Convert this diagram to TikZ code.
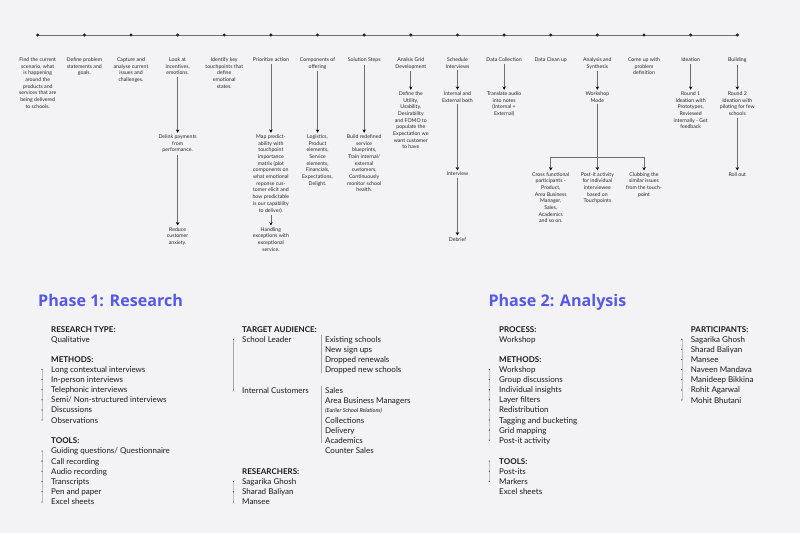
\documentclass[tikz,border=0pt]{standalone}
\usepackage{fontspec}
\setmainfont{Lato}
\newfontfamily\titlefont{Open Sans}
\usetikzlibrary{positioning,arrows.meta,calc}
\definecolor{paper}{RGB}{243,243,245}
\definecolor{phaseblue}{RGB}{86,88,232}
\definecolor{wire}{RGB}{110,110,110}
\tikzset{
    stepdot/.style={
        circle,fill=black!85,inner sep=0pt,minimum size=3.4pt
    },
    steptext/.style={
        font=\fontsize{5.2}{6.7}\selectfont,align=center,anchor=north,inner sep=0pt,text=black!85
    },
    flow/.style={
        draw=wire,line width=.7pt,-{Stealth[length=3.4pt,width=3.4pt,black]},shorten <=2pt,shorten >=1.5pt
    },
    phase/.style={
        font=\titlefont\bfseries\fontsize{16.1}{19}\selectfont,text=phaseblue,anchor=base west,inner sep=0pt
    },
    item/.style={
        font=\fontsize{8}{10}\selectfont,anchor=base west,inner sep=0pt,text=black!90
    },
    head/.style={item,font=\fontsize{8}{10}\selectfont\bfseries},
    bul/.style={black!75},
    bline/.style={draw=black!25,line width=.3pt},
    sep/.style={draw=black!35,line width=.5pt}
}

\begin{document}
\begin{tikzpicture}[x=1pt,y=-1pt]
\fill[paper] (0,0) rectangle (800,533);
\useasboundingbox (0,0) rectangle (800,533);

% timeline
\foreach \i in {1,...,16}
    \coordinate (t\i) at ({37.7+46.64*(\i-1)},35);
\draw[wire,line width=.8pt] (t1) -- (t16);
\foreach \i in {1,...,16}
    \node[stepdot] (d\i) at (t\i) {};

\node[steptext,below=20.5pt of d1] (s1) {Find the current\\scenario, what\\is happening\\around the\\products and\\services that are\\being delivered\\to schools.};
\node[steptext,below=20.5pt of d2] (s2) {Define problem\\statements and\\goals.};
\node[steptext,below=20.5pt of d3] (s3) {Capture and\\analyse current\\issues and\\challenges.};
\node[steptext,below=20.5pt of d4] (s4) {Look at\\incentives,\\emotions.};
\node[steptext,below=20.5pt of d5] (s5) {Identify key\\touchpoints that\\define\\emotional\\states.};
\node[steptext,below=20.5pt of d6] (s6) {Prioritize action};
\node[steptext,below=20.5pt of d7] (s7) {Components of\\offering};
\node[steptext,below=20.5pt of d8] (s8) {Solution Steps};
\node[steptext,below=20.5pt of d9] (s9) {Analsis Grid\\Development};
\node[steptext,below=20.5pt of d10] (s10) {Schedule\\Interviews};
\node[steptext,below=20.5pt of d11] (s11) {Data Collection};
\node[steptext,below=20.5pt of d12] (s12) {Data Clean up};
\node[steptext,below=20.5pt of d13] (s13) {Analysis and\\Synthesis};
\node[steptext,below=20.5pt of d14] (s14) {Come up with\\problem\\definition};
\node[steptext,below=20.5pt of d15] (s15) {Ideation};
\node[steptext,below=20.5pt of d16] (s16) {Building};

\node[steptext] (c4a) at (d4 |- 0,134.3) {Delink payments\\from\\performance.};
\node[steptext] (c4b) at (d4 |- 0,227) {Reduce\\customer\\anxiety.};
\node[steptext] (c6a) at (d6 |- 0,134.3) {Map predict-\\ability with\\touchpoint\\importance\\matrix (plot\\components on\\what emotional\\reponse cus-\\tomer elicit and\\how predictable\\is our capability\\to deliver).};
\node[steptext] (c6b) at (d6 |- 0,227) {Handling\\exceptions with\\exceptional\\service.};
\node[steptext] (c7) at (d7 |- 0,134.3) {Logistics,\\Product\\elements,\\Service\\elements,\\Financials,\\Expectations,\\Delight.};
\node[steptext] (c8) at (d8 |- 0,134.3) {Build redefined\\service\\blueprints,\\Train internal/\\external\\customers,\\Continuously\\monitor school\\health.};
\node[steptext] (c9) at (d9 |- 0,91.3) {Define the\\Utility,\\Usability,\\Desirability\\and FOMO to\\populate the\\Expectation we\\want customer\\to have};
\node[steptext] (c10a) at (d10 |- 0,91.3) {Internal and\\External both};
\node[steptext] (c10b) at (d10 |- 0,172) {Interview};
\node[steptext] (c10c) at (d10 |- 0,237) {Debrief};
\node[steptext] (c11) at (d11 |- 0,91.3) {Translate audio\\into notes\\(Internal +\\External)};
\node[steptext] (c13) at (d13 |- 0,91.3) {Workshop\\Mode};
\node[steptext] (c13a) at (d12 |- 0,172) {Cross functional\\participants -\\Product,\\Area Business\\Manager,\\Sales,\\Academics\\and so on.};
\node[steptext] (c13b) at (d13 |- 0,172) {Post-it activity\\for individual\\interviewee\\based on\\Touchpoints};
\node[steptext] (c13c) at (d14 |- 0,172) {Clubbing the\\similar issues\\from the touch-\\point};
\node[steptext] (c15) at (d15 |- 0,91.3) {Round 1\\Ideation with\\Prototypes,\\Reviewed\\internally - Get\\feedback};
\node[steptext] (c16a) at (d16 |- 0,91.3) {Round 2\\Ideation with\\piloting for few\\schools};
\node[steptext] (c16b) at (d16 |- 0,172) {Roll out};

\draw[flow] (s4) -- (c4a);
\draw[flow] (c4a) -- (c4b);
\draw[flow] (s6) -- (c6a);
\draw[flow] (c6a) -- (c6b);
\draw[flow] (s7) -- (c7);
\draw[flow] (s8) -- (c8);
\draw[flow] (s9) -- (c9);
\draw[flow] (s10) -- (c10a);
\draw[flow] (c10a) -- (c10b);
\draw[flow] (c10b) -- (c10c);
\draw[flow] (s11) -- (c11);
\draw[flow] (s13) -- (c13);
\draw[flow] (c13) -- (c13b);
\coordinate (fork) at (c13 |- 0,157);
\draw[flow,shorten <=0pt] (fork) -| (c13a.north);
\draw[flow,shorten <=0pt] (fork) -| (c13c.north);
\draw[flow] (s15) -- (c15);
\draw[flow] (s16) -- (c16a);
\draw[flow] (c16a) -- (c16b);

% phase 1
\node[phase] (p1) at (38,306) {Phase 1: Research};

\node[head] (rt) at (51,332) {RESEARCH TYPE:};
\node[item] (rt1) at (51,342.2) {Qualitative};
\node[head] (me) at (51,362.3) {METHODS:};
\foreach \t [count=\i] in {Long contextual interviews,In-person interviews,Telephonic interviews,Semi/ Non-structured interviews,Discussions,Observations}{
    \node[item] (me\i) at (51,{362.3+10.12*\i}) {\t};
    \coordinate (mb\i) at ($(me\i.base west)+(-9,-3)$);
}
\draw[bline] (mb1) -- (mb6);
\foreach \i in {1,...,6} \fill[bul] (mb\i) circle (.65);
\node[head] (to) at (51,443.7) {TOOLS:};
\foreach \t [count=\i] in {Guiding questions/ Questionnaire,Call recording,Audio recording,Transcripts,Pen and paper,Excel sheets}{
    \node[item] (to\i) at (51,{443.7+10.2*\i}) {\t};
    \coordinate (tb\i) at ($(to\i.base west)+(-9,-3)$);
}
\draw[bline] (tb1) -- (tb6);
\foreach \i in {1,...,6} \fill[bul] (tb\i) circle (.65);

\node[head] (ta) at (242,332) {TARGET AUDIENCE:};
\node[item] (ta1) at (242,342.2) {School Leader};
\node[item] (ta2) at (242,393) {Internal Customers};
\coordinate (ab1) at ($(ta1.base west)+(-8.5,-3)$);
\coordinate (ab2) at ($(ta2.base west)+(-8.5,-3)$);
\draw[sep] (ab1) -- (ab2);
\fill[bul] (ab1) circle (.65);
\fill[bul] (ab2) circle (.65);
\foreach \t [count=\i] in {Existing schools,New sign ups,Dropped renewals,Dropped new schools}
    \node[item] (sl\i) at (325,{332.1+10.12*\i}) {\t};
\node[item] (ic1) at (325,393) {Sales};
\node[item] (ic2) at (325,403.2) {Area Business Managers};
\node[item,font=\fontsize{5.6}{7}\selectfont\itshape] (ic3) at (325,412.5) {(Earlier School Relations)};
\foreach \t [count=\i] in {Collections,Delivery,Academics,Counter Sales}
    \node[item] (ic\i x) at (325,{413.1+10.15*\i}) {\t};
\draw[sep] (321.5,335) -- (321.5,373);
\draw[sep] (321.5,386) -- (321.5,443);

\node[head] (rs) at (242,474.3) {RESEARCHERS:};
\foreach \t [count=\i] in {Sagarika Ghosh,Sharad Baliyan,Mansee}{
    \node[item] (rs\i) at (242,{474.3+10.2*\i}) {\t};
    \coordinate (rb\i) at ($(rs\i.base west)+(-8.5,-3)$);
}
\draw[bline] (rb1) -- (rb3);
\foreach \i in {1,...,3} \fill[bul] (rb\i) circle (.65);

% phase 2
\node[phase] (p2) at (488.3,306) {Phase 2: Analysis};

\node[head] (pr) at (499,332) {PROCESS:};
\node[item] (pr1) at (499,342.2) {Workshop};
\node[head] (am) at (499,362.3) {METHODS:};
\foreach \t [count=\i] in {Workshop,Group discussions,Individual insights,Layer filters,Redistribution,Tagging and bucketing,Grid mapping,Post-it activity}{
    \node[item] (am\i) at (499,{362.3+10.12*\i}) {\t};
    \coordinate (qb\i) at ($(am\i.base west)+(-9.7,-3)$);
}
\draw[bline] (qb1) -- (qb8);
\foreach \i in {1,...,8} \fill[bul] (qb\i) circle (.65);
\node[head] (at) at (499,464) {TOOLS:};
\foreach \t [count=\i] in {Post-its,Markers,Excel sheets}
    \node[item] (at\i) at (499,{464+10.2*\i}) {\t};
\coordinate (xb1) at ($(at.base west)+(-9.7,-3)$);
\coordinate (xb2) at ($(at1.base west)+(-9.7,-3)$);
\coordinate (xb3) at ($(at2.base west)+(-9.7,-3)$);
\draw[bline] (xb1) -- (xb3);
\foreach \i in {1,...,3} \fill[bul] (xb\i) circle (.65);

\node[head] (pa) at (690.7,332) {PARTICIPANTS:};
\foreach \t [count=\i] in {Sagarika Ghosh,Sharad Baliyan,Mansee,Naveen Mandava,Manideep Bikkina,Rohit Agarwal,Mohit Bhutani}{
    \node[item] (pa\i) at (690.7,{332+10.15*\i}) {\t};
    \coordinate (pb\i) at ($(pa\i.base west)+(-9,-3)$);
}
\draw[bline] (pb1) -- (pb7);
\foreach \i in {1,...,7} \fill[bul] (pb\i) circle (.65);
\end{tikzpicture}
\end{document}
